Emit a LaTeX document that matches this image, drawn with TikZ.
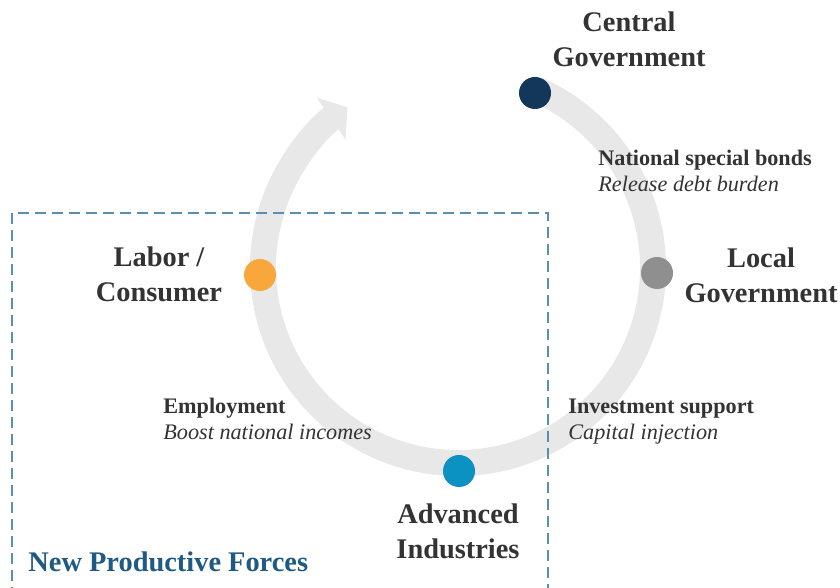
\documentclass[tikz,border=0pt]{standalone}
\usepackage{fontspec}
\setmainfont{Liberation Serif}
\usetikzlibrary{arrows.meta}

\definecolor{cyclegray}{HTML}{E8E8E8}
\definecolor{textgray}{HTML}{333333}
\definecolor{boxblue}{HTML}{5B8DB2}
\definecolor{forceblue}{HTML}{1F5A85}
\definecolor{centralblue}{HTML}{12375A}
\definecolor{localgray}{HTML}{8F8F8F}
\definecolor{labororange}{HTML}{F7A73C}
\definecolor{industryblue}{HTML}{0B92C2}

\tikzset{
	actor/.style={font=\fontsize{14.2}{17.5}\selectfont\bfseries, text=textgray, align=center},
	flow/.style={font=\fontsize{11.1}{13}\selectfont, text=textgray, align=left, anchor=west, inner sep=0pt},
	dot/.style={circle, minimum size=16pt, inner sep=0pt}
}

\begin{document}
\begin{tikzpicture}[x=0.5pt, y=0.5pt]
	\useasboundingbox (0,0) rectangle (840,588);
						\coordinate (hub) at (458,320);
						\draw[cyclegray, line width=13pt, -{Triangle[width=25pt, length=10pt]}] (hub) ++(66:97.5pt) arc[start angle=66, end angle=-235.5, radius=97.5pt];
						\draw[boxblue, line width=0.8pt, dash pattern=on 5.5pt off 3pt] (12,-10) -- (12,375) -- (548,375) -- (548,-10);

						\node[dot, fill=centralblue] (central) at (535,495){};
							\node[actor] (centralname) at (629,549){Central\\Government};
						\node[dot, fill=localgray] (local) at (657,315){};
							\node[actor] (localname) at (761,313){Local\\Government};
						\node[dot, fill=industryblue] (industry) at (459,117){};
							\node[actor] (industryname) at (458,57){Advanced\\Industries};
						\node[dot, fill=labororange] (labor) at (260,313){};
							\node[actor] (laborname) at (159,314){Labor /\\Consumer};

						\node[flow] (bonds) at (598,417){\textbf{National special bonds}\\\textit{Release debt burden}};
						\node[flow] (invest) at (568,166){\textbf{Investment support}\\\textit{Capital injection}};
						\node[flow] (jobs) at (163,169){\textbf{Employment}\\\textit{Boost national incomes}};

						\node[font=\fontsize{14.2}{17.5}\selectfont\bfseries, text=forceblue, anchor=west, inner sep=0pt] (forces) at (28,26){New Productive Forces};
\end{tikzpicture}
\end{document}
